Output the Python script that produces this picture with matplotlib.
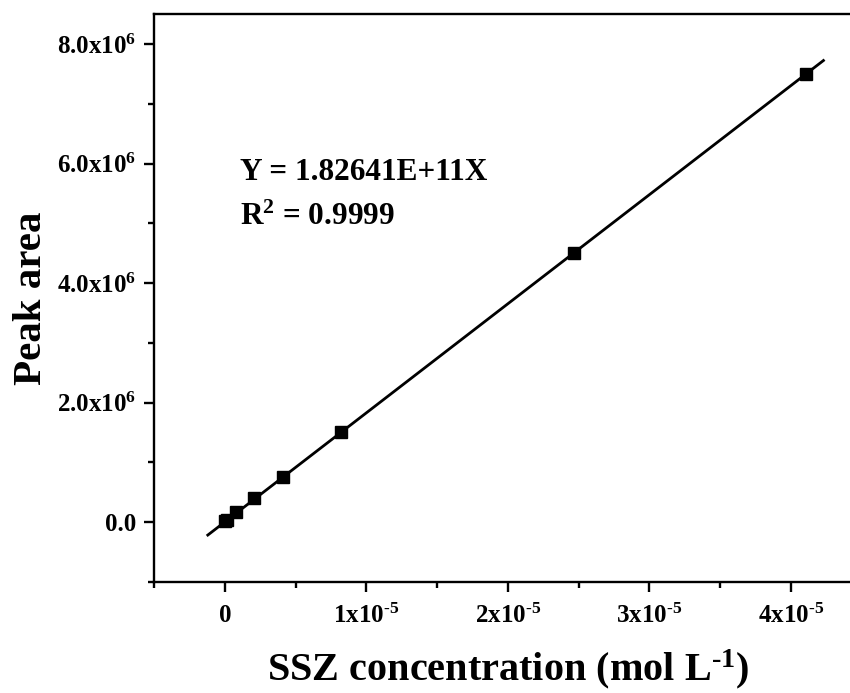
import matplotlib
matplotlib.use("Agg")
import matplotlib.pyplot as plt
from matplotlib.ticker import MultipleLocator, FixedLocator, FixedFormatter

plt.rcParams['font.family'] = ['Liberation Serif', 'DejaVu Serif']
plt.rcParams['font.weight'] = 'bold'
plt.rcParams['mathtext.fontset'] = 'custom'
plt.rcParams['mathtext.rm'] = 'Liberation Serif:bold'
plt.rcParams['mathtext.bf'] = 'Liberation Serif:bold'
plt.rcParams['mathtext.it'] = 'Liberation Serif:bold'

# data
conc = [4.1e-8, 1.6e-7, 8.2e-7, 2.05e-6, 4.11e-6, 8.22e-6, 2.47e-5, 4.11e-5]
area = [0.01e6, 0.03e6, 0.165e6, 0.40e6, 0.75e6, 1.51e6, 4.51e6, 7.50e6]
slope = 1.82641e11
fit_x = [-0.12e-5, 4.23e-5]

xticks = [0, 1e-5, 2e-5, 3e-5, 4e-5]
xticklabels = ['0', r'1x10$^{\text{-5}}$', r'2x10$^{\text{-5}}$',
               r'3x10$^{\text{-5}}$', r'4x10$^{\text{-5}}$']
yticks = [0, 2e6, 4e6, 6e6, 8e6]
yticklabels = ['0.0', r'2.0x10$^{6}$', r'4.0x10$^{6}$', r'6.0x10$^{6}$', r'8.0x10$^{6}$']

fig = plt.figure(figsize=(8.5, 6.93), dpi=100)
ax = fig.add_axes([0.1812, 0.1606, 0.8325, 0.8188])

ax.plot(fit_x, [slope * v for v in fit_x], color='black', lw=2.0, zorder=2)
ax.plot(conc, area, linestyle='none', marker='s', markersize=8.5,
        color='black', zorder=3)

ax.set_xlim(-0.5e-5, 4.5e-5)
ax.set_ylim(-1e6, 8.5e6)

ax.xaxis.set_major_locator(FixedLocator(xticks))
ax.xaxis.set_major_formatter(FixedFormatter(xticklabels))
ax.xaxis.set_minor_locator(MultipleLocator(0.5e-5))
ax.yaxis.set_major_locator(FixedLocator(yticks))
ax.yaxis.set_major_formatter(FixedFormatter(yticklabels))
ax.yaxis.set_minor_locator(MultipleLocator(1e6))

for s in ax.spines.values():
    s.set_linewidth(1.7)
ax.tick_params(which='major', direction='out', length=7, width=1.7,
               labelsize=18, pad=6)
ax.tick_params(which='minor', direction='out', length=4, width=1.7)
ax.tick_params(axis='x', which='major', pad=9)

ax.set_xlabel(r'SSZ concentration (mol L$^{\text{-1}}$)', fontsize=29,
              fontweight='bold', labelpad=14)
ax.set_ylabel('Peak area', fontsize=29.5, fontweight='bold', labelpad=5)

ax.text(0.1215, 0.708, 'Y = 1.82641E+11X', transform=ax.transAxes,
        fontsize=22.5, fontweight='bold', ha='left', va='baseline')
ax.text(0.1215, 0.629, r'R$^{2}$ = 0.9999', transform=ax.transAxes,
        fontsize=22.5, fontweight='bold', ha='left', va='baseline')

fig.savefig('out.png', dpi=100)
